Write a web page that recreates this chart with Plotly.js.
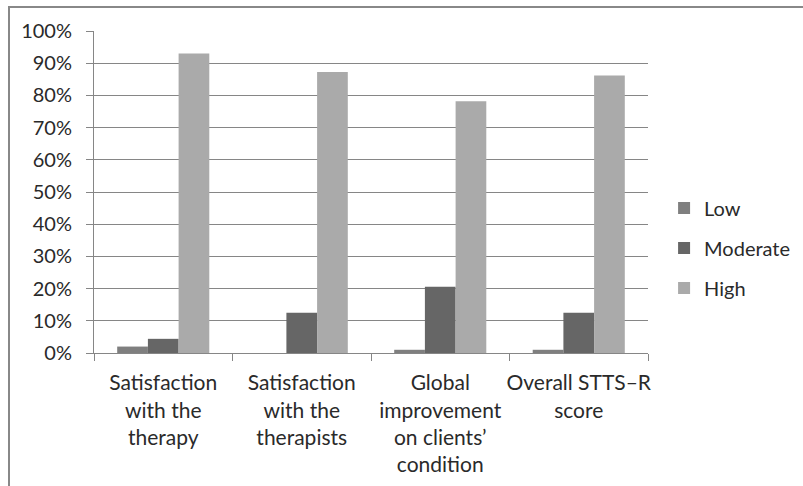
<!DOCTYPE html>
<html><head><meta charset="utf-8">
<script src="https://cdn.plot.ly/plotly-3.0.1.min.js"></script>
<style>
html,body{margin:0;padding:0;background:#fff;}
#wrap{position:relative;width:803px;height:486px;}
#chart{position:absolute;left:0;top:0;width:803px;height:486px;}
#frame{position:absolute;left:8px;top:6px;width:793px;height:490px;border-top:2px solid #888;border-left:2px solid #888;pointer-events:none;}
</style>
</head><body>
<div id="wrap"><div id="chart"></div><div id="frame"></div></div>
<script>
const categories = ["Satisfaction<br>with the<br>therapy", "Satisfaction<br>with the<br>therapists", "Global<br>improvement<br>on clients’<br>condition", "Overall STTS–R<br>score"];
const lowValues = [0.02, 0.0, 0.01, 0.01];
const moderateValues = [0.044, 0.125, 0.206, 0.125];
const highValues = [0.93, 0.873, 0.782, 0.862];
const seriesNames = ["Low", "Moderate", "High"];
const seriesColors = ["#7f7f7f", "#666666", "#aaaaaa"];

const allValues = [lowValues, moderateValues, highValues];
const traces = allValues.map((vals, i) => ({
  type: 'bar', x: categories, y: vals, name: seriesNames[i],
  legendgroup: 'g' + i,
  marker: {color: seriesColors[i], line: {width: 0}},
  hoverinfo: 'skip'
}));

const family = 'Lato, "Open Sans", sans-serif';
const xfont = {family: family, size: 21, color: '#2a2a2a'};
const yfont = {family: family, size: 20, color: '#2a2a2a'};
const lfont = {family: family, size: 20, color: '#2a2a2a'};
const layout = {
  width: 803, height: 486,
  margin: {l: 94, r: 155, t: 31, b: 133},
  paper_bgcolor: '#fff', plot_bgcolor: '#fff',
  font: xfont,
  barmode: 'group', bargap: 0.335, bargroupgap: 0,
  showlegend: true,
  legend: {xref: 'container', yref: 'container', x: 0.827, xanchor: 'left', y: 0.4897, yanchor: 'middle', font: lfont, tracegroupgap: 11, traceorder: 'grouped', bgcolor: 'rgba(0,0,0,0)'},
  xaxis: {
    type: 'category', tickson: 'boundaries', ticks: 'outside', ticklen: 7, tickcolor: '#868686', tickwidth: 1,
    showline: true, linecolor: '#868686', linewidth: 1, showgrid: false, tickangle: 0, tickfont: xfont,
    ticklabelstandoff: 11, automargin: false
  },
  yaxis: {
    range: [0, 1], dtick: 0.1, tick0: 0, tickformat: '.0%', ticks: 'outside', ticklen: 7, tickcolor: '#868686',
    showline: true, linecolor: '#868686', linewidth: 1, showgrid: true, gridcolor: '#868686', gridwidth: 1,
    zeroline: false, tickfont: yfont, ticklabelstandoff: 10, automargin: false, fixedrange: true
  }
};
Plotly.newPlot('chart', traces, layout, {staticPlot: true, displayModeBar: false});
</script>
</body></html>
